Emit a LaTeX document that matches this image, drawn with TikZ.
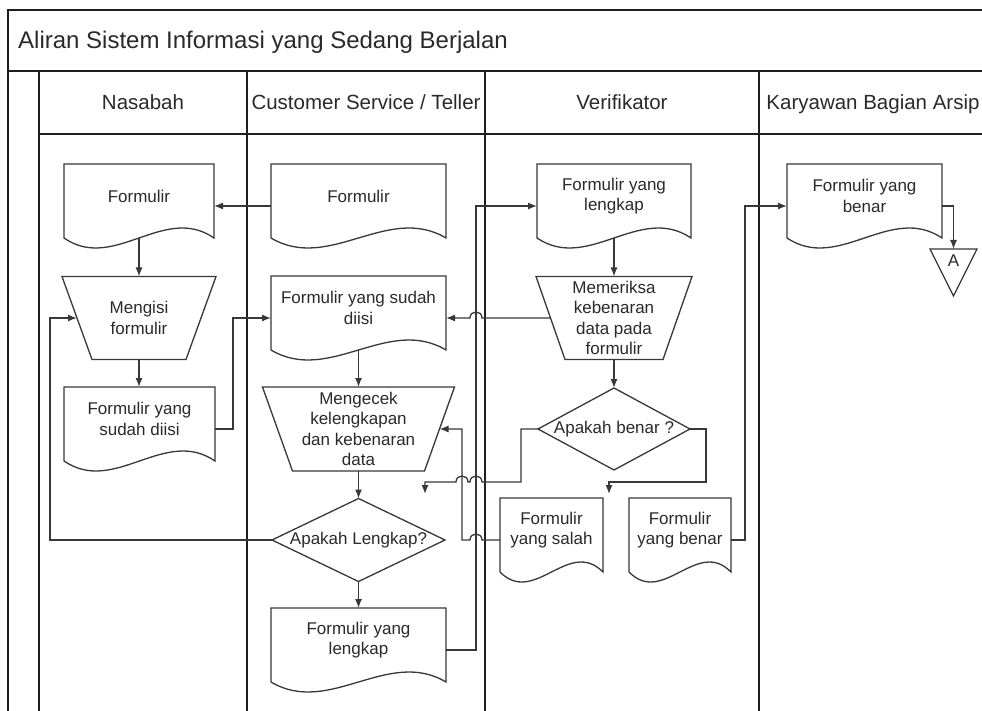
\documentclass[tikz,border=0pt]{standalone}
\usepackage{fontspec}
\setmainfont{Liberation Sans}
\usetikzlibrary{arrows.meta,calc}
\definecolor{ln}{HTML}{383838}
\definecolor{fr}{HTML}{1E1E1E}
\definecolor{tx}{HTML}{2A2A2A}
\newcommand\docu[5]{%
  \node[box,minimum width=#4pt,minimum height=84pt] (#1) at (#2,#3+42) {};
  \draw[shp] (#1.north west) -- (#1.north east) -- ($(#1.north east)+(0,74)$)
    .. controls +(-#4/3,-34.6) and +(#4/3,34.6) .. ($(#1.north west)+(0,74)$) -- cycle;
  \node[body] (#1t) at ($(#1.north)+(0,32)$) {#5};
}
\newcommand\manop[7]{%
  \node[box,minimum width=#4pt,minimum height=#5pt] (#1) at (#2,#3) {};
  \draw[shp] (#1.north west) -- (#1.north east) -- ($(#1.south east)+(-#6,0)$)
    -- ($(#1.south west)+(#6,0)$) -- cycle;
  \node[body] (#1t) at (#1.center) {#7};
}
\newcommand\diam[6]{%
  \node[box,minimum width=#4pt,minimum height=#5pt] (#1) at (#2,#3) {};
  \draw[shp] (#1.north) -- (#1.east) -- (#1.south) -- (#1.west) -- cycle;
  \node[body] (#1t) at (#1.center) {#6};
}
\begin{document}
\begin{tikzpicture}[x=1pt,y=-1pt,
  frm/.style={draw=fr,line width=1.5pt},
  frmthick/.style={draw=fr,line width=2pt},
  shp/.style={draw=ln,line width=1.3pt,fill=white},
  conn/.style={draw=ln,line width=1.3pt},
  arr/.style={conn,-{Latex[length=9pt,width=7pt]}},
  box/.style={inner sep=0pt,outer sep=0pt},
  body/.style={font=\fontsize{17}{20.6}\selectfont,text=tx,align=center,inner sep=0pt},
  hdr/.style={font=\fontsize{20.5}{24}\selectfont,text=tx,inner sep=0pt,anchor=base},
]
\useasboundingbox (0,0) rectangle (982,711);
\fill[white] (0,0) rectangle (982,711);
\clip (0,0) rectangle (982,711);

% frame
\draw[frmthick] (8,720) -- (8,10) -- (995,10);
\draw[frmthick] (8,71) -- (995,71);
\draw[frm] (39,71) -- (39,720);
\draw[frm] (39,134) -- (995,134);
\draw[frm] (247,71) -- (247,720);
\draw[frm] (485,71) -- (485,720);
\draw[frm] (759,71) -- (759,720);

\node[font=\fontsize{24}{28}\selectfont,text=tx,inner sep=0pt,anchor=base west] (title) at (18,48.5) {Aliran Sistem Informasi yang Sedang Berjalan};
\node[hdr] (h1) at (143,110) {Nasabah};
\node[hdr] (h2) at (366,110) {Customer Service / Teller};
\node[hdr] (h3) at (622,110) {Verifikator};
\node[hdr] (h4) at (873,110) {Karyawan Bagian Arsip};

% shapes
\docu{nform}{139}{164}{150}{Formulir}
\docu{csform}{358.5}{164}{175}{Formulir}
\docu{vlengkap}{614}{164}{154}{Formulir yang\\lengkap}
\docu{kbenar}{864.5}{164}{155}{Formulir yang\\benar}
\manop{mengisi}{139}{318}{154}{83}{30}{Mengisi\\formulir}
\docu{csdiisi}{358.5}{276}{175}{Formulir yang sudah\\diisi}
\manop{memeriksa}{614}{318}{156}{83}{29}{Memeriksa\\kebenaran\\data pada\\formulir}
\docu{ndiisi}{139.5}{387}{151}{Formulir yang\\sudah diisi}
\manop{mengecek}{358.5}{429}{192}{84}{30}{Mengecek\\kelengkapan\\dan kebenaran\\data}
\diam{dbenar}{614}{429}{152}{82}{Apakah benar ?}
\diam{dlengkap}{358.5}{540}{173}{83}{Apakah Lengkap?}
\docu{vsalah}{551.5}{498}{103}{Formulir\\yang salah}
\docu{vbenar}{680}{498}{102}{Formulir\\yang benar}
\docu{cslengkap}{358.5}{608}{175}{Formulir yang\\lengkap}
\node[box,minimum width=47pt,minimum height=47pt] (triA) at (953.5,272.5) {};
\draw[shp] (triA.north west) -- (triA.north east) -- (triA.south) -- cycle;
\node[body] (triAt) at (953.5,261) {A};

\coordinate (e3) at (425,494);
\coordinate (e4) at (609,494);

% connectors
\draw[arr] ($(nform.south)+(0,-10)$) -- (mengisi.north);
\draw[arr] (mengisi.south) -- (mengisi.south |- ndiisi.north);
\draw[arr] ($(csdiisi.south)+(0,-10)$) -- (mengecek.north);
\draw[arr] (mengecek.south) -- (dlengkap.north);
\draw[arr] (dlengkap.south) -- (cslengkap.north);
\draw[arr] ($(vlengkap.south)+(0,-10)$) -- (memeriksa.north);
\draw[arr] (memeriksa.south) -- (dbenar.north);

\draw[arr] (csform.west) -- (nform.east);
\draw[arr] (ndiisi.east) -- (233,429) |- (csdiisi.west);
\draw[arr] (dlengkap.west) -- (50,540) |- ($(mengisi.west)+(15,0)$);
\draw[arr] (cslengkap.east) -- (476,650) |- (vlengkap.west);
\draw[arr] (vsalah.west) -- (482,540) .. controls (482,532) and (470,532) .. (470,540) -- (462,540) |- ($(mengecek.east)+(-15,0)$);
\draw[arr] ($(memeriksa.west)+(14.5,0)$) -- (482,318) .. controls (482,310) and (470,310) .. (470,318) -- (csdiisi.east);
\draw[arr] (dbenar.west) -- (521,429) -- (521,482) -- (482,482) .. controls (482,474) and (470,474) .. (470,482) -- (468,482) .. controls (468,474) and (456,474) .. (456,482) -- (425,482) -- (e3);
\draw[arr] (dbenar.east) -- (706,429) -- (706,482) -- (609,482) -- (e4);
\draw[arr] (vbenar.east) -- (745,540) |- (kbenar.west);
\draw[arr] (kbenar.east) -| (triA.north);
\end{tikzpicture}
\end{document}
